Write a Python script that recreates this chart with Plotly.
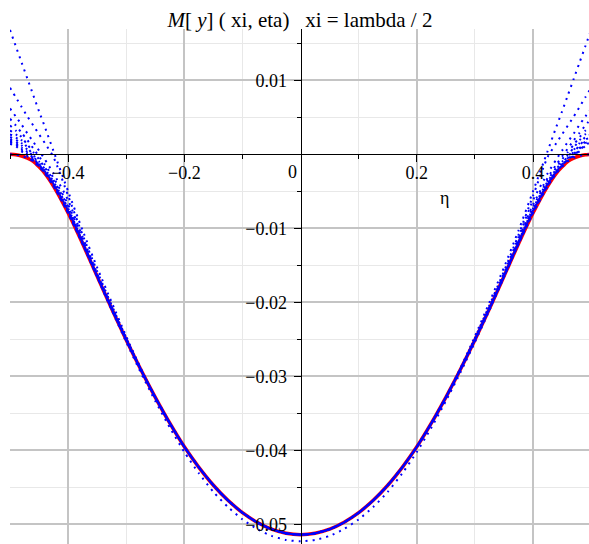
import plotly.graph_objects as go

# Sample positions across the plate width (denser near the clamped edges)
eta = [-0.5, -0.49, -0.48, -0.47, -0.46, -0.45, -0.44, -0.425, -0.4, -0.375, -0.35, -0.325, -0.3, -0.275,
       -0.25, -0.225, -0.2, -0.175, -0.15, -0.125, -0.1, -0.075, -0.05, -0.025, 0.0,
       0.025, 0.05, 0.075, 0.1, 0.125, 0.15, 0.175, 0.2, 0.225, 0.25,
       0.275, 0.3, 0.325, 0.35, 0.375, 0.4, 0.425, 0.44, 0.45, 0.46, 0.47, 0.48, 0.49, 0.5]

# Exact bending moment M[y](lambda/2, eta)
m_exact = [0.0, -0.00006, -0.00023, -0.00051, -0.00095, -0.00170, -0.00257, -0.00432, -0.00792, -0.01208,
           -0.01650, -0.02087, -0.02508, -0.02909,
           -0.03284, -0.03634, -0.03953, -0.04230, -0.04472, -0.04676, -0.04843, -0.04973, -0.05066, -0.05121,
           -0.05140,
           -0.05121, -0.05066, -0.04973, -0.04843, -0.04676, -0.04472, -0.04230, -0.03953, -0.03634, -0.03284,
           -0.02909, -0.02508, -0.02087, -0.01650, -0.01208, -0.00792, -0.00432, -0.00257, -0.00170, -0.00095,
           -0.00051, -0.00023, -0.00006, 0.0]

# Lowest partial sum of the series (one term)
m_first = [0.0, -0.00006, -0.00023, -0.00051, -0.00095, -0.00170, -0.00257, -0.00432, -0.00792, -0.01208,
           -0.01660, -0.02107, -0.02538, -0.02949,
           -0.03334, -0.03694, -0.04023, -0.04310, -0.04562, -0.04766, -0.04933, -0.05063, -0.05156, -0.05211,
           -0.05230,
           -0.05211, -0.05156, -0.05063, -0.04933, -0.04766, -0.04562, -0.04310, -0.04023, -0.03694, -0.03334,
           -0.02949, -0.02538, -0.02107, -0.01660, -0.01208, -0.00792, -0.00432, -0.00257, -0.00170, -0.00095,
           -0.00051, -0.00023, -0.00006, 0.0]

# Higher partial sums in the edge band (distance from edge 0 ... 0.225);
# further inside they coincide with the exact solution.
edge_band = 14
partial_edge = [
    [0.0168, 0.0146, 0.0124, 0.0102, 0.0080, 0.0058, 0.0037, 0.0004, -0.0050, -0.0103, -0.0153, -0.0200, -0.0246, -0.0289],
    [0.0090, 0.0077, 0.0064, 0.0051, 0.0039, 0.0027, 0.0015, -0.0004, -0.0056, -0.0109, -0.0158, -0.0204, -0.0248, -0.0290],
    [0.0062, 0.0051, 0.0040, 0.0028, 0.0017, 0.0005, -0.0007, -0.0026, -0.0062, -0.0112, -0.0161, -0.0206, -0.0250, -0.02909],
    [0.0048, 0.0039, 0.0029, 0.0019, 0.0008, -0.0003, -0.0014, -0.0032, -0.0068, -0.0115, -0.0163, -0.02087, -0.02508, -0.02909],
    [0.0039, 0.0032, 0.0023, 0.0013, 0.0003, -0.0007, -0.0018, -0.0035, -0.0071, -0.0117, -0.0164, -0.02087, -0.02508, -0.02909],
    [0.0032, 0.0027, 0.0019, 0.0009, -0.0001, -0.0010, -0.0020, -0.0037, -0.0073, -0.0118, -0.0165, -0.02087, -0.02508, -0.02909],
    [0.0027, 0.0023, 0.0015, 0.0006, -0.0003, -0.0012, -0.0022, -0.0039, -0.0075, -0.0119, -0.0165, -0.02087, -0.02508, -0.02909],
    [0.0023, 0.0020, 0.0012, 0.0003, -0.0005, -0.0014, -0.0023, -0.0040, -0.0076, -0.0120, -0.0165, -0.02087, -0.02508, -0.02909],
    [0.0020, 0.0017, 0.0009, 0.0001, -0.0006, -0.0015, -0.0024, -0.0041, -0.0077, -0.0120, -0.0165, -0.02087, -0.02508, -0.02909],
    [0.0018, 0.0015, 0.0007, -0.0001, -0.0007, -0.0015, -0.0024, -0.0042, -0.0078, -0.0121, -0.0165, -0.02087, -0.02508, -0.02909],
    [0.0016, 0.0013, 0.0005, -0.0002, -0.0008, -0.0016, -0.0025, -0.0042, -0.0079, -0.0121, -0.0165, -0.02087, -0.02508, -0.02909],
    [0.0014, 0.0011, 0.0004, -0.0003, -0.0009, -0.0016, -0.0025, -0.0043, -0.0079, -0.0121, -0.0165, -0.02087, -0.02508, -0.02909],
]

x_ticks = [-0.4, -0.2, 0.2, 0.4]
x_ticktext = ["\u22120.4", "\u22120.2", "0.2", "0.4"]
x_minor = [-0.5, -0.3, -0.1, 0.1, 0.3, 0.5]
y_ticks = [0.01, -0.01, -0.02, -0.03, -0.04, -0.05]
y_ticktext = ["0.01", "\u22120.01", "\u22120.02", "\u22120.03", "\u22120.04", "\u22120.05"]
y_minor = [0.015, 0.005, -0.005, -0.015, -0.025, -0.035, -0.045]

x_range = [-0.5, 0.4963]
y_range = [-0.05266, 0.01693]

SERIF = "Liberation Serif"
BLUE = "#0000ff"
DOTS = "2px,5px"

fig = go.Figure()

fig.add_trace(go.Scatter(
    x=eta, y=m_exact, mode="lines",
    line=dict(color="#ff0000", width=3.5, shape="spline", smoothing=0.6),
    hoverinfo="skip", showlegend=False,
))

interior = m_exact[edge_band:len(eta) - edge_band]
for row in partial_edge:
    ys = row + interior + row[::-1]
    fig.add_trace(go.Scatter(
        x=eta, y=ys, mode="lines",
        line=dict(color=BLUE, width=2, dash=DOTS, shape="spline", smoothing=0.6),
        hoverinfo="skip", showlegend=False,
    ))

fig.add_trace(go.Scatter(
    x=eta, y=m_first, mode="lines",
    line=dict(color=BLUE, width=2, dash=DOTS, shape="spline", smoothing=0.6),
    hoverinfo="skip", showlegend=False,
))

x_axis_pos = (0 - y_range[0]) / (y_range[1] - y_range[0])
y_axis_pos = (0 - x_range[0]) / (x_range[1] - x_range[0])

tick_font = dict(family=SERIF, size=18, color="black")

fig.update_layout(
    width=589, height=544,
    margin=dict(l=10, r=0, t=29, b=0),
    paper_bgcolor="white", plot_bgcolor="white",
    font=dict(family=SERIF, color="black"),
    title=dict(
        text="<i>M</i>[ <i>y</i>] ( xi, eta)\u00a0\u00a0\u00a0xi = lambda / 2",
        x=300 / 589, xanchor="center", xref="container",
        y=(544 - 20) / 544, yanchor="middle", yref="container",
        font=dict(family=SERIF, size=21, color="black"),
    ),
    xaxis=dict(
        range=x_range, anchor="free", position=x_axis_pos,
        showline=True, linecolor="black", linewidth=1,
        ticks="outside", ticklen=7, tickcolor="black", tickwidth=1,
        tickmode="array", tickvals=x_ticks, ticktext=x_ticktext,
        tickfont=tick_font, ticklabelstandoff=-5,
        showgrid=True, gridcolor="#c4c4c4", gridwidth=1.5, zeroline=False,
        minor=dict(tickmode="array", tickvals=x_minor, ticks="outside", ticklen=4,
                   tickcolor="black", showgrid=True, gridcolor="#e8e8e8", gridwidth=1),
    ),
    yaxis=dict(
        range=y_range, anchor="free", position=y_axis_pos,
        showline=True, linecolor="black", linewidth=1,
        ticks="outside", ticklen=7, tickcolor="black", tickwidth=1,
        tickmode="array", tickvals=y_ticks, ticktext=y_ticktext,
        tickfont=tick_font,
        ticklabelstandoff=3,
        showgrid=True, gridcolor="#c4c4c4", gridwidth=1.5, zeroline=False,
        minor=dict(tickmode="array", tickvals=y_minor, ticks="outside", ticklen=4,
                   tickcolor="black", showgrid=True, gridcolor="#e8e8e8", gridwidth=1),
    ),
    annotations=[
        dict(x=-0.0146, y=-0.0024, xref="x", yref="y", text="0", showarrow=False,
             font=tick_font),
        dict(x=0.248, y=-0.0059, xref="x", yref="y", text="\u03b7", showarrow=False,
             font=dict(family=SERIF, size=18, color="black")),
    ],
)

fig.write_html("out.html")
